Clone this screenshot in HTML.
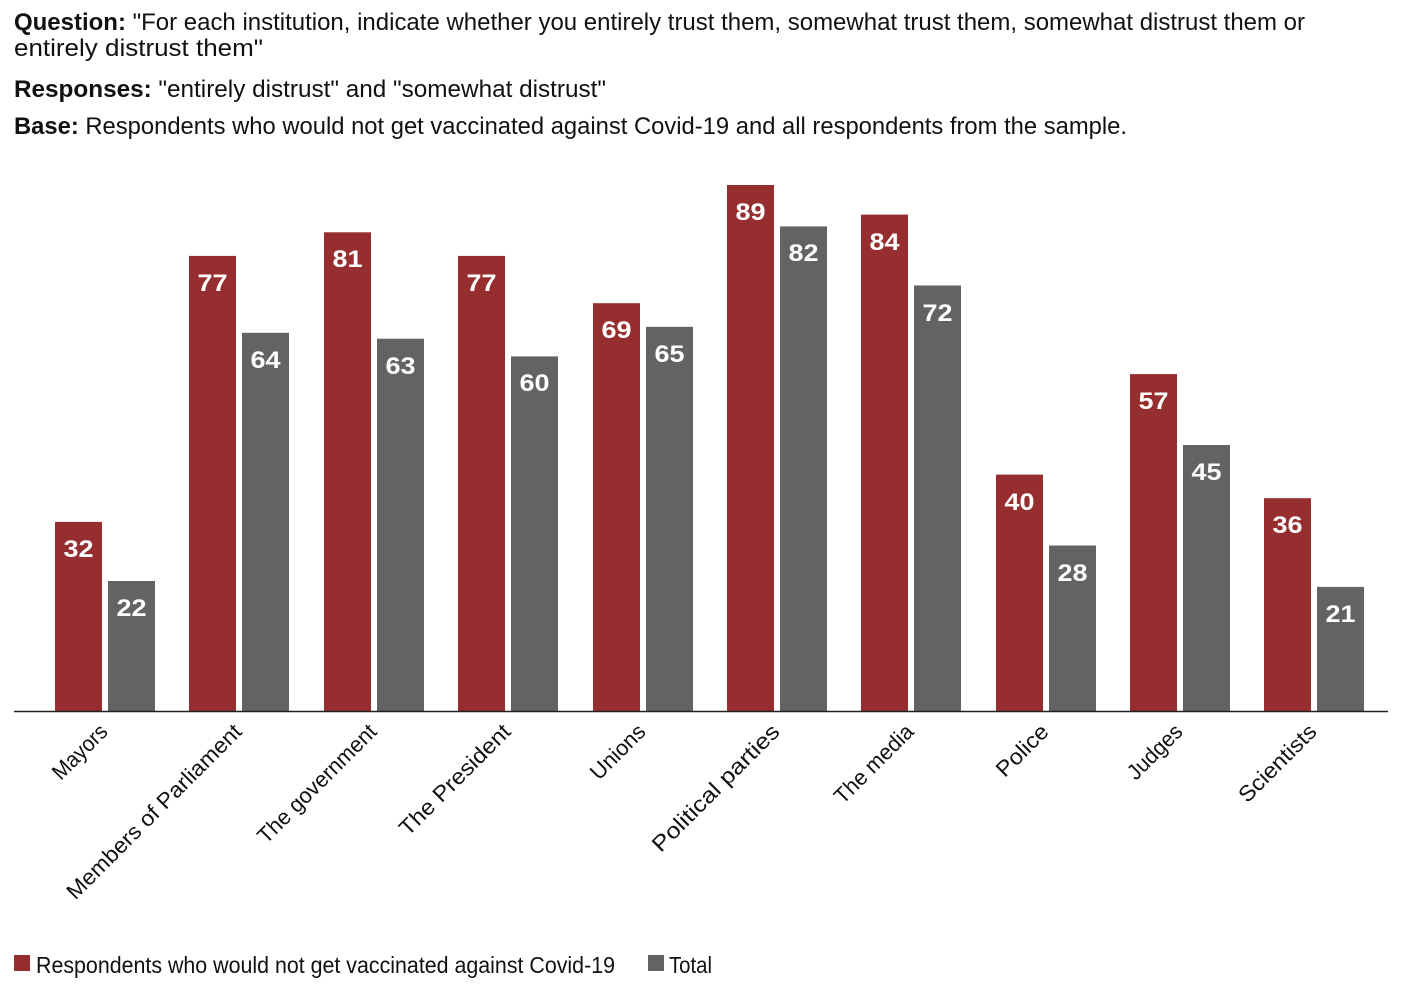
<!DOCTYPE html>
<html><head><meta charset="utf-8"><style>
html,body{margin:0;padding:0;background:#fff;}
svg{display:block;font-family:"Liberation Sans",sans-serif;}
</style></head><body>
<svg width="1412" height="990" viewBox="0 0 1412 990" xmlns="http://www.w3.org/2000/svg">
<g font-size="24" fill="#111">
<text x="14" y="30" textLength="1291" lengthAdjust="spacingAndGlyphs"><tspan font-weight="bold">Question:</tspan> "For each institution, indicate whether you entirely trust them, somewhat trust them, somewhat distrust them or</text>
<text x="14" y="56" textLength="249" lengthAdjust="spacingAndGlyphs">entirely distrust them"</text>
<text x="14" y="97" textLength="592" lengthAdjust="spacingAndGlyphs"><tspan font-weight="bold">Responses:</tspan> "entirely distrust" and "somewhat distrust"</text>
<text x="14" y="134" textLength="1113" lengthAdjust="spacingAndGlyphs"><tspan font-weight="bold">Base:</tspan> Respondents who would not get vaccinated against Covid-19 and all respondents from the sample.</text>
</g>
<g fill="#962d2e">
<rect x="55" y="521.9" width="47" height="189.1"/>
<rect x="189" y="255.9" width="47" height="455.1"/>
<rect x="324" y="232.3" width="47" height="478.7"/>
<rect x="458" y="255.9" width="47" height="455.1"/>
<rect x="593" y="303.2" width="47" height="407.8"/>
<rect x="727" y="185" width="47" height="526"/>
<rect x="861" y="214.6" width="47" height="496.4"/>
<rect x="996" y="474.6" width="47" height="236.4"/>
<rect x="1130" y="374.1" width="47" height="336.9"/>
<rect x="1264" y="498.2" width="47" height="212.8"/>
</g>
<g fill="#636363">
<rect x="108" y="581" width="47" height="130"/>
<rect x="242" y="332.8" width="47" height="378.2"/>
<rect x="377" y="338.7" width="47" height="372.3"/>
<rect x="511" y="356.4" width="47" height="354.6"/>
<rect x="646" y="326.8" width="47" height="384.2"/>
<rect x="780" y="226.4" width="47" height="484.6"/>
<rect x="914" y="285.5" width="47" height="425.5"/>
<rect x="1049" y="545.5" width="47" height="165.5"/>
<rect x="1183" y="445" width="47" height="266"/>
<rect x="1317" y="586.9" width="47" height="124.1"/>
</g>
<g font-size="24" font-weight="bold" fill="#fff" text-anchor="middle">
<text x="78.5" y="557" textLength="30" lengthAdjust="spacingAndGlyphs">32</text>
<text x="131.5" y="616" textLength="30" lengthAdjust="spacingAndGlyphs">22</text>
<text x="212.5" y="291" textLength="30" lengthAdjust="spacingAndGlyphs">77</text>
<text x="265.5" y="368" textLength="30" lengthAdjust="spacingAndGlyphs">64</text>
<text x="347.5" y="267" textLength="30" lengthAdjust="spacingAndGlyphs">81</text>
<text x="400.5" y="374" textLength="30" lengthAdjust="spacingAndGlyphs">63</text>
<text x="481.5" y="291" textLength="30" lengthAdjust="spacingAndGlyphs">77</text>
<text x="534.5" y="391" textLength="30" lengthAdjust="spacingAndGlyphs">60</text>
<text x="616.5" y="338" textLength="30" lengthAdjust="spacingAndGlyphs">69</text>
<text x="669.5" y="362" textLength="30" lengthAdjust="spacingAndGlyphs">65</text>
<text x="750.5" y="220" textLength="30" lengthAdjust="spacingAndGlyphs">89</text>
<text x="803.5" y="261" textLength="30" lengthAdjust="spacingAndGlyphs">82</text>
<text x="884.5" y="250" textLength="30" lengthAdjust="spacingAndGlyphs">84</text>
<text x="937.5" y="321" textLength="30" lengthAdjust="spacingAndGlyphs">72</text>
<text x="1019.5" y="510" textLength="30" lengthAdjust="spacingAndGlyphs">40</text>
<text x="1072.5" y="581" textLength="30" lengthAdjust="spacingAndGlyphs">28</text>
<text x="1153.5" y="409" textLength="30" lengthAdjust="spacingAndGlyphs">57</text>
<text x="1206.5" y="480" textLength="30" lengthAdjust="spacingAndGlyphs">45</text>
<text x="1287.5" y="533" textLength="30" lengthAdjust="spacingAndGlyphs">36</text>
<text x="1340.5" y="622" textLength="30" lengthAdjust="spacingAndGlyphs">21</text>
</g>
<line x1="14" y1="711.5" x2="1388" y2="711.5" stroke="#222" stroke-width="1.5"/>
<g font-size="22" fill="#111" text-anchor="end">
<text transform="translate(109,733) rotate(-45)" textLength="68" lengthAdjust="spacingAndGlyphs">Mayors</text>
<text transform="translate(243,733) rotate(-45)" textLength="237" lengthAdjust="spacingAndGlyphs">Members of Parliament</text>
<text transform="translate(378,733) rotate(-45)" textLength="158" lengthAdjust="spacingAndGlyphs">The government</text>
<text transform="translate(512,733) rotate(-45)" textLength="147" lengthAdjust="spacingAndGlyphs">The President</text>
<text transform="translate(647,733) rotate(-45)" textLength="68" lengthAdjust="spacingAndGlyphs">Unions</text>
<text transform="translate(781,733) rotate(-45)" textLength="170" lengthAdjust="spacingAndGlyphs">Political parties</text>
<text transform="translate(915,733) rotate(-45)" textLength="102" lengthAdjust="spacingAndGlyphs">The media</text>
<text transform="translate(1050,733) rotate(-45)" textLength="64" lengthAdjust="spacingAndGlyphs">Police</text>
<text transform="translate(1184,733) rotate(-45)" textLength="68" lengthAdjust="spacingAndGlyphs">Judges</text>
<text transform="translate(1318,733) rotate(-45)" textLength="100" lengthAdjust="spacingAndGlyphs">Scientists</text>
</g>
<rect x="14" y="955" width="16" height="16" fill="#962d2e"/>
<text x="36" y="973" font-size="23" fill="#111" textLength="579" lengthAdjust="spacingAndGlyphs">Respondents who would not get vaccinated against Covid-19</text>
<rect x="648" y="955" width="16" height="16" fill="#636363"/>
<text x="669" y="973" font-size="23" fill="#111" textLength="43" lengthAdjust="spacingAndGlyphs">Total</text>
</svg>
</body></html>
